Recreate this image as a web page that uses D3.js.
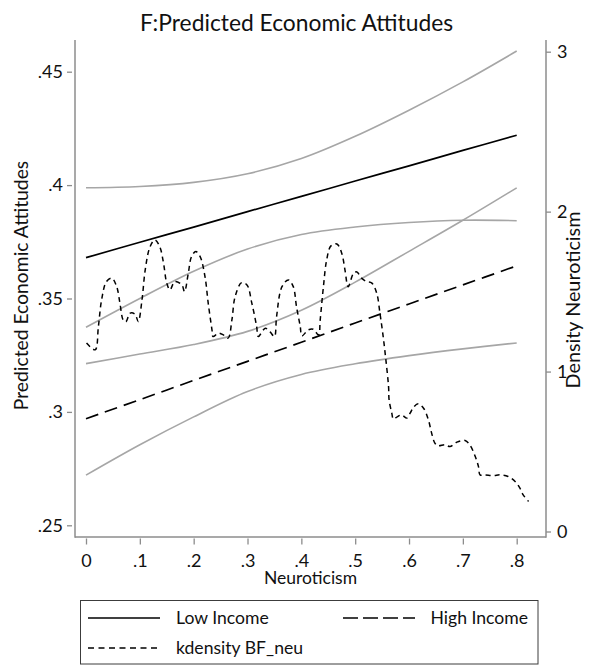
<!DOCTYPE html>
<html>
<head>
<meta charset="utf-8">
<script src="https://cdn.jsdelivr.net/npm/d3@7"></script>
<style>
  html, body { margin: 0; padding: 0; background: #fff; }
  svg { display: block; font-family: Lato, "Open Sans", sans-serif; }
</style>
</head>
<body>
<svg id="chart" width="599" height="670"></svg>
<script>
// ---- data ----
const title = "F:Predicted Economic Attitudes";
const xTicks = [0, 0.1, 0.2, 0.3, 0.4, 0.5, 0.6, 0.7, 0.8];
const xTickLabels = ["0", ".1", ".2", ".3", ".4", ".5", ".6", ".7", ".8"];
const yLeftTicks = [0.25, 0.3, 0.35, 0.4, 0.45];
const yLeftTickLabels = [".25", ".3", ".35", ".4", ".45"];
const yRightTicks = [0, 1, 2, 3];
const yRightTickLabels = ["0", "1", "2", "3"];

const neuro = [0, 0.1, 0.2, 0.3, 0.4, 0.5, 0.6, 0.7, 0.8];
const lowIncome  = [0.3680, 0.3748, 0.3815, 0.3883, 0.3950, 0.4018, 0.4085, 0.4153, 0.4220];
const lowUpper   = [0.3988, 0.3994, 0.4012, 0.4050, 0.4117, 0.4215, 0.4330, 0.4455, 0.4591];
const lowLower   = [0.3373, 0.3500, 0.3620, 0.3718, 0.3782, 0.3815, 0.3835, 0.3845, 0.3843];
const highIncome = [0.2970, 0.3054, 0.3139, 0.3223, 0.3307, 0.3392, 0.3476, 0.3560, 0.3644];
const highUpper  = [0.3213, 0.3255, 0.3297, 0.3355, 0.3448, 0.3572, 0.3708, 0.3845, 0.3988];
const highLower  = [0.2721, 0.2855, 0.2978, 0.3090, 0.3165, 0.3212, 0.3248, 0.3278, 0.3304];

const kdX = [0.001,0.017,0.023,0.029,0.038,0.048,0.057,0.063,0.069,0.074,0.082,0.091,0.097,0.104,0.110,0.119,0.128,0.137,0.144,0.150,0.156,0.165,0.178,0.183,0.190,0.196,0.204,0.212,0.221,0.227,0.234,0.236,0.246,0.255,0.264,0.271,0.277,0.289,0.299,0.308,0.317,0.320,0.333,0.342,0.350,0.354,0.364,0.376,0.385,0.391,0.398,0.401,0.413,0.422,0.432,0.435,0.441,0.447,0.455,0.466,0.475,0.481,0.487,0.497,0.503,0.512,0.521,0.531,0.540,0.546,0.552,0.557,0.562,0.563,0.568,0.571,0.578,0.586,0.596,0.602,0.609,0.617,0.627,0.636,0.642,0.648,0.654,0.667,0.676,0.689,0.704,0.713,0.723,0.729,0.732,0.741,0.757,0.769,0.784,0.797,0.806,0.812,0.822];
const kdY = [1.178,1.136,1.281,1.448,1.563,1.584,1.531,1.428,1.323,1.311,1.365,1.359,1.313,1.448,1.636,1.781,1.823,1.781,1.678,1.553,1.511,1.563,1.542,1.500,1.615,1.719,1.750,1.719,1.594,1.428,1.261,1.219,1.240,1.229,1.209,1.323,1.469,1.556,1.542,1.428,1.281,1.219,1.271,1.248,1.219,1.344,1.531,1.573,1.531,1.406,1.281,1.223,1.261,1.265,1.229,1.323,1.531,1.698,1.786,1.798,1.740,1.636,1.531,1.615,1.623,1.584,1.563,1.553,1.490,1.365,1.219,1.073,0.906,0.823,0.740,0.703,0.717,0.729,0.709,0.740,0.779,0.798,0.771,0.698,0.615,0.553,0.536,0.542,0.531,0.559,0.569,0.542,0.469,0.406,0.354,0.354,0.350,0.354,0.344,0.313,0.271,0.229,0.188];

const legendLabels = ["Low Income", "High Income", "kdensity BF_neu"];
const xTitle = "Neuroticism";
const yLeftTitle = "Predicted Economic Attitudes";
const yRightTitle = "Density Neuroticism";

// ---- layout ----
const svg = d3.select("#chart");
const W = 599, H = 670;
svg.append("rect").attr("width", W).attr("height", H).attr("fill", "#fff");

const plot = { left: 75, right: 546, top: 40, bottom: 537 };
const x = d3.scaleLinear().domain([0, 0.8]).range([86, 516.7]);
const yL = d3.scaleLinear().domain([0.25, 0.45]).range([525.3, 71.7]);
const yR = d3.scaleLinear().domain([0, 3]).range([531.5, 51.7]);

const axisColor = "#8c8c8c";
const ciColor = "#a6a6a6";
const fontSize = 18;

// title
svg.append("text").attr("x", 296.5).attr("y", 30.5).attr("text-anchor", "middle")
  .attr("font-size", 22.8).attr("fill", "#111").text(title);

// axis frame lines
const frame = svg.append("g").attr("stroke", axisColor).attr("stroke-width", 1.5).attr("fill", "none");
frame.append("line").attr("x1", plot.left).attr("x2", plot.left).attr("y1", plot.top).attr("y2", plot.bottom + 0.75);
frame.append("line").attr("x1", plot.right).attr("x2", plot.right).attr("y1", plot.top).attr("y2", plot.bottom + 0.75);
frame.append("line").attr("x1", plot.left).attr("x2", plot.right).attr("y1", plot.bottom).attr("y2", plot.bottom);

function styleAxis(g) {
  g.select(".domain").remove();
  g.selectAll(".tick line").attr("stroke", axisColor).attr("stroke-width", 1.3);
  g.selectAll(".tick text").attr("fill", "#111").attr("font-size", fontSize).attr("font-family", "Lato, sans-serif");
}

// bottom axis
svg.append("g").attr("transform", `translate(0,${plot.bottom + 1.5})`)
  .call(d3.axisBottom(x).tickValues(xTicks).tickFormat((d, i) => xTickLabels[i]).tickSize(6).tickPadding(10))
  .call(styleAxis);

// left axis
svg.append("g").attr("transform", `translate(${plot.left - 3},0)`)
  .call(d3.axisLeft(yL).tickValues(yLeftTicks).tickFormat((d, i) => yLeftTickLabels[i]).tickSize(5).tickPadding(4))
  .call(styleAxis);

// right axis
svg.append("g").attr("transform", `translate(${plot.right},0)`)
  .call(d3.axisRight(yR).tickValues(yRightTicks).tickFormat((d, i) => yRightTickLabels[i]).tickSize(5).tickPadding(6))
  .call(styleAxis);

// axis titles
svg.append("text").attr("x", 310.5).attr("y", 584).attr("text-anchor", "middle")
  .attr("font-size", 17.5).attr("fill", "#111").text(xTitle);
svg.append("text").attr("transform", "translate(28,285.5) rotate(-90)").attr("text-anchor", "middle")
  .attr("font-size", 19.3).attr("fill", "#111").text(yLeftTitle);
svg.append("text").attr("transform", "translate(579.5,300) rotate(-90)").attr("text-anchor", "middle")
  .attr("font-size", 19.8).attr("fill", "#111").text(yRightTitle);

// lines
const lineL = d3.line().x((d, i) => x(neuro[i])).y(d => yL(d)).curve(d3.curveCatmullRom.alpha(0.5));
const g = svg.append("g").attr("fill", "none");

[lowUpper, lowLower, highUpper, highLower].forEach(arr => {
  g.append("path").attr("d", lineL(arr)).attr("stroke", ciColor).attr("stroke-width", 1.6);
});
g.append("path").attr("d", lineL(lowIncome)).attr("stroke", "#000").attr("stroke-width", 1.7);
g.append("path").attr("d", lineL(highIncome)).attr("stroke", "#000").attr("stroke-width", 1.7)
  .attr("stroke-dasharray", "13,7");

const lineK = d3.line().x((d, i) => x(kdX[i])).y(d => yR(d)).curve(d3.curveCatmullRom.alpha(0.5));
g.append("path").attr("d", lineK(kdY)).attr("stroke", "#000").attr("stroke-width", 1.5)
  .attr("stroke-dasharray", "5,4");

// legend
const lg = svg.append("g");
lg.append("rect").attr("x", 80.5).attr("y", 600.5).attr("width", 457.5).attr("height", 63.5)
  .attr("fill", "#fff").attr("stroke", "#3c3c3c").attr("stroke-width", 1);
const legendItems = [
  { label: legendLabels[0], x1: 88, x2: 160, tx: 176, y: 618, dash: null, w: 1.7 },
  { label: legendLabels[1], x1: 343, x2: 415, tx: 430.5, y: 618, dash: "15,5", w: 1.7 },
  { label: legendLabels[2], x1: 88, x2: 160, tx: 176, y: 648, dash: "6,4.5", w: 1.5 }
];
legendItems.forEach(it => {
  const ln = lg.append("line").attr("x1", it.x1).attr("x2", it.x2).attr("y1", it.y).attr("y2", it.y)
    .attr("stroke", "#000").attr("stroke-width", it.w);
  if (it.dash) ln.attr("stroke-dasharray", it.dash);
  lg.append("text").attr("x", it.tx).attr("y", it.y).attr("dy", "0.35em")
    .attr("font-size", 17.6).attr("fill", "#111").text(it.label);
});
</script>
</body>
</html>
